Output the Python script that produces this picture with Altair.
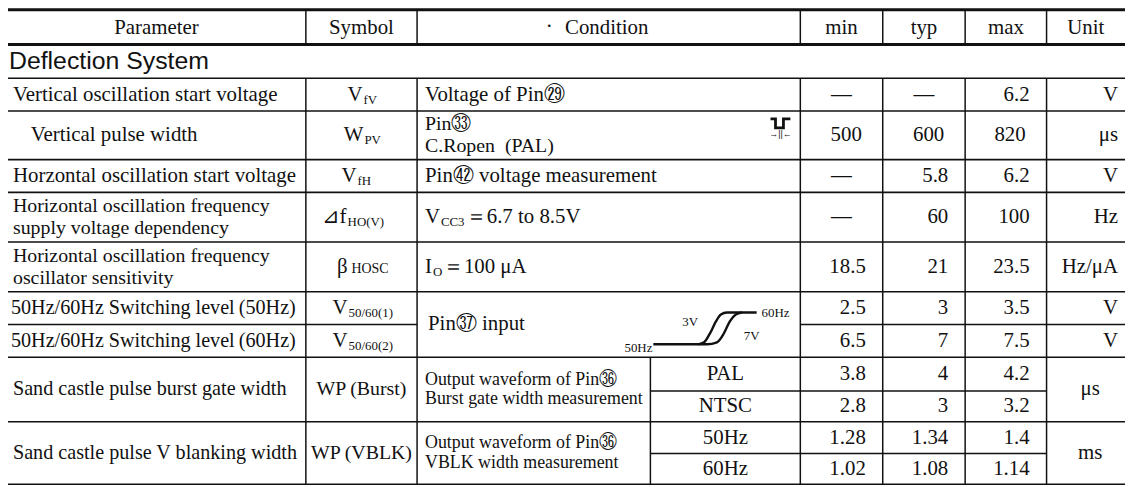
import altair as alt
import pandas as pd

# ---------------- content ----------------
HEADERS = ["Parameter", "Symbol", "Condition", "min", "typ", "max", "Unit"]
SECTION = "Deflection System"
PARAM_LINES = [
    ["Vertical oscillation start voltage"],
    ["Vertical pulse width"],
    ["Horzontal oscillation start voltage"],
    ["Horizontal oscillation frequency", "supply voltage dependency"],
    ["Horizontal oscillation frequency", "oscillator sensitivity"],
    ["50Hz/60Hz Switching level\u2009(50Hz)"],
    ["50Hz/60Hz Switching level\u2009(60Hz)"],
    ["Sand castle pulse burst gate width"],
    ["Sand castle pulse V blanking width"],
]
SYM_MAIN = ["V", "W", "V", "⊿f", "β", "V", "V", "WP\u2009(Burst)", "WP\u2009(VBLK)"]
SYM_SUB = ["fV", "PV", "fH", "HO(V)", "HOSC", "50/60(1)", "50/60(2)", "", ""]
COND_R1 = "Voltage of Pin㉙"
COND_R2 = ["Pin㉝", "C.Ropen\u2002(PAL)"]
COND_R3 = "Pin㊷ voltage measurement"
COND_R4 = ["V", "CC3", "＝6.7 to 8.5V"]
COND_R5 = ["I", "O", "＝100 μA"]
COND_R67 = "Pin㊲ input"
HYST_LABELS = ["50Hz", "60Hz", "3V", "7V"]
PULSE_LABEL = "→||←"
COND_R8 = ["Output waveform of Pin㊱", "Burst gate width measurement"]
COND_R9 = ["Output waveform of Pin㊱", "VBLK width measurement"]
SUBCOND = ["PAL", "NTSC", "50Hz", "60Hz"]
MIN_VALS = ["—", "500", "—", "—", "18.5", "2.5", "6.5", "3.8", "2.8", "1.28", "1.02"]
TYP_VALS = ["—", "600", "5.8", "60", "21", "3", "7", "4", "3", "1.34", "1.08"]
MAX_VALS = ["6.2", "820", "6.2", "100", "23.5", "3.5", "7.5", "4.2", "3.2", "1.4", "1.14"]
UNITS = ["V", "μs", "V", "Hz", "Hz/μA", "V", "V", "μs", "ms"]

# ---------------- layout (page pixel coordinates) ----------------
XL, XPS, XSC, XCSUB, XCM, XMT, XTM, XMU, XR = 7, 308, 420, 655, 806, 889, 972, 1054, 1133
YL = [8, 43, 77, 110, 159, 192, 242, 292, 325, 358, 392, 423, 455, 486]
VAL_ROWS = [(YL[i], YL[i + 1]) for i in range(2, 13)]          # 11 value rows
PAR_ROWS = VAL_ROWS[:7] + [(YL[9], YL[11]), (YL[11], YL[13])]  # 9 parameter rows
PAR_X = [13, 31, 13, 13, 13, 11, 11, 13, 13]
SYM_ANCHOR = [365, 366, 359, 349, 350, 350, 350, None, None]
GAP2 = 22.5   # line spacing in two-line cells
GAPS = 20     # line spacing in small two-line cells
SERIF = "Liberation Serif"
SANS = "Liberation Sans"

recs = []


def add(x, y, t, s):
    recs.append(dict(x=x, y=y, t=t, s=s))


def mid(r):
    return (r[0] + r[1]) / 2


# headers
hy = (YL[0] + YL[1]) / 2 + 1
hx = [(XL + XPS) / 2, (XPS + XSC) / 2, 611, (XCM + XMT) / 2, (XMT + XTM) / 2, (XTM + XMU) / 2, (XMU + XR) / 2]
for x, h in zip(hx, HEADERS):
    add(x, hy, h, "center")
add(553, hy - 1, "·", "center")
add(9, (YL[1] + YL[2]) / 2, SECTION, "sec")

# parameters
for i, (r, lines, px) in enumerate(zip(PAR_ROWS, PARAM_LINES, PAR_X)):
    c = mid(r)
    if len(lines) > 1:
        add(px, c - GAP2 / 2, lines[0], "left2")
        add(px, c + GAP2 / 2, lines[1], "left2")
    else:
        add(px, c, lines[0], "plong" if i >= 5 else "left")

# symbols
for r, m, sb, a in zip(PAR_ROWS, SYM_MAIN, SYM_SUB, SYM_ANCHOR):
    c = mid(r)
    if a is None:
        add((XPS + XSC) / 2, c, m, "csym")
    else:
        add(a, c, m, "right")
        if sb == "HOSC":
            add(a + 4, c + 2, sb, "smallcap")
        else:
            add(a + 1, c + 5, sb, "sub")

# conditions
cx = 428
add(cx, mid(VAL_ROWS[0]), COND_R1, "left")
add(cx, mid(VAL_ROWS[1]) - GAP2 / 2, COND_R2[0], "left2")
add(cx, mid(VAL_ROWS[1]) + GAP2 / 2, COND_R2[1], "left2")
add(cx, mid(VAL_ROWS[2]), COND_R3, "left")
c4 = mid(VAL_ROWS[3])
add(cx, c4, COND_R4[0], "left")
add(cx + 16, c4 + 5, COND_R4[1], "sub")
add(cx + 41, c4, COND_R4[2], "left")
c5 = mid(VAL_ROWS[4])
add(cx, c5, COND_R5[0], "left")
add(cx + 8, c5 + 5, COND_R5[1], "sub")
add(cx + 18, c5, COND_R5[2], "left")
add(cx + 3, YL[8], COND_R67, "left")
add(657, 349, HYST_LABELS[0], "tinyr")
add(767, 313, HYST_LABELS[1], "tinyl")
add(695, 323, HYST_LABELS[2], "tinyc")
add(757, 337, HYST_LABELS[3], "tinyc")
add(786, 133, PULSE_LABEL, "arrow")
for r, lines in zip([PAR_ROWS[7], PAR_ROWS[8]], [COND_R8, COND_R9]):
    c = mid(r)
    add(cx, c - GAPS / 2, lines[0], "small")
    add(cx, c + GAPS / 2, lines[1], "small")
for r, sc in zip(VAL_ROWS[7:], SUBCOND):
    add((XCSUB + XCM) / 2, mid(r), sc, "center")

# values
for col_l, col_r, vals in [(XCM, XMT, MIN_VALS), (XMT, XTM, TYP_VALS), (XTM, XMU, MAX_VALS)]:
    for k, (r, v) in enumerate(zip(VAL_ROWS, vals)):
        if v == "—":
            add((col_l + col_r) / 2, mid(r), v, "center")
        else:
            add(col_r - (21 if k == 1 else 17), mid(r), v, "right")
for r, u in zip(PAR_ROWS, UNITS):
    if r[1] - r[0] > 55:
        add(1098, mid(r), u, "center")
    else:
        add(XR - 7, mid(r), u, "right")

texts = pd.DataFrame(recs)

# style: align, font, size
STYLES = {
    "center": ("center", SERIF, 21),
    "csym": ("center", SERIF, 20),
    "left": ("left", SERIF, 21),
    "left2": ("left", SERIF, 20),
    "plong": ("left", SERIF, 20.3),
    "right": ("right", SERIF, 21),
    "sec": ("left", SANS, 25),
    "sub": ("left", SERIF, 13),
    "smallcap": ("left", SERIF, 14),
    "small": ("left", SERIF, 18),
    "tinyr": ("right", SERIF, 13),
    "tinyl": ("left", SERIF, 13),
    "tinyc": ("center", SERIF, 13),
    "arrow": ("center", SANS, 9),
}

# horizontal rules
H = [(YL[0], XL, XR, 3), (YL[1], XL, XR, 3)]
for y in [YL[2], YL[3], YL[4], YL[5], YL[6], YL[7], YL[9], YL[11], YL[13]]:
    H.append((y, XL, XR, 1.6))
H += [(YL[8], XL, XSC, 1.6), (YL[8], XCM, XR, 1.6)]
H += [(YL[10], XCSUB, XMU, 1.6), (YL[12], XCSUB, XMU, 1.6)]
hdf = pd.DataFrame(H, columns=["y", "x", "x2", "w"])

V = []
for x in [XPS, XSC, XCM, XMT, XTM, XMU]:
    V.append((x, YL[0], YL[1]))
    V.append((x, YL[2], YL[13]))
V.append((XCSUB, YL[9], YL[13]))
vdf = pd.DataFrame(V, columns=["x", "y", "y2"])

# decorations: hysteresis sketch and pulse icon
DECOR = {
    "hA": [(658, 345), (712, 345), (722, 343), (729, 334), (735, 322), (741, 315), (747, 313)],
    "hB": [(703, 345), (709, 343), (715, 334), (721, 322), (726, 315), (732, 313), (762, 313)],
    "p": [(776, 118), (781, 118), (781, 127), (789, 127), (789, 118), (796, 118)],
}
drows = []
for k, pts in DECOR.items():
    for i, (x, y) in enumerate(pts):
        drows.append(dict(part=k, i=i, x=x, y=y))
ddf = pd.DataFrame(drows)

xs = alt.Scale(domain=[8, 1133], nice=False, zero=False)
ys = alt.Scale(domain=[8, 487], nice=False, zero=False, reverse=True)


def X(f="x"):
    return alt.X(f"{f}:Q", scale=xs, axis=None)


def Y(f="y"):
    return alt.Y(f"{f}:Q", scale=ys, axis=None)


layers = []
layers.append(
    alt.Chart(hdf).mark_rule(color="#111").encode(
        x=X(), x2="x2:Q", y=Y(), strokeWidth=alt.StrokeWidth("w:Q", scale=None)
    )
)
layers.append(
    alt.Chart(vdf).mark_rule(color="#111", strokeWidth=1.5).encode(x=X(), y=Y(), y2="y2:Q")
)
layers.append(
    alt.Chart(ddf[ddf.part != "p"]).mark_line(color="#111", strokeWidth=2.4, interpolate="monotone").encode(
        x=X(), y=Y(), detail="part:N", order="i:Q"
    )
)
layers.append(
    alt.Chart(ddf[ddf.part == "p"]).mark_line(color="#111", strokeWidth=2.8).encode(
        x=X(), y=Y(), detail="part:N", order="i:Q"
    )
)
for s, (align, font, size) in STYLES.items():
    sub = texts[texts.s == s]
    if len(sub) == 0:
        continue
    layers.append(
        alt.Chart(sub).mark_text(align=align, baseline="middle", font=font, fontSize=size, color="#111").encode(
            x=X(), y=Y(), text="t:N"
        )
    )

chart = (
    alt.layer(*layers)
    .properties(width=1125, height=479, padding=0, autosize=alt.AutoSizeParams(type="none"), background="white")
    .configure_view(stroke=None)
)
chart.save("out.html", embed_options={"renderer": "svg", "actions": False})
